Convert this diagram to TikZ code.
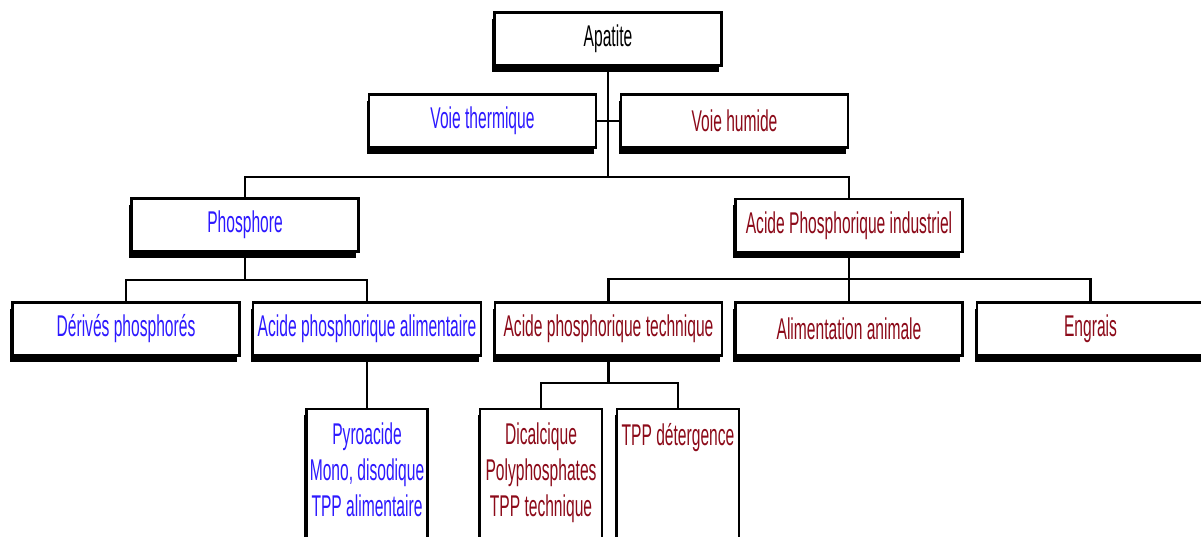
\documentclass[tikz,border=0pt]{standalone}
\usepackage{fontspec}
\newfontfamily\cond[FakeStretch=0.52]{Liberation Sans}
\usetikzlibrary{shadows}
\definecolor{tblue}{RGB}{45,25,255}
\definecolor{tred}{RGB}{140,10,25}
\tikzset{
  box/.style={draw, line width=2.3pt, fill=white, inner sep=0pt,
    drop shadow={shadow xshift=-2.5pt, shadow yshift=-6pt, fill=black, opacity=1}},
  wbox/.style={box, minimum width=227pt, minimum height=53pt,
    font=\cond\fontsize{30}{36}\selectfont},
  tallbox/.style={box, minimum width=122pt, minimum height=170pt, anchor=north},
  lbl/.style={font=\cond\fontsize{30}{36}\selectfont, align=center, inner sep=0pt},
  tb/.style={text=tblue},
  tr/.style={text=tred},
  thinlink/.style={line width=1.2pt},
  midlink/.style={line width=2.2pt},
  link/.style={line width=2.6pt},
}
\begin{document}
\begin{tikzpicture}[x=1pt,y=-1pt]
\useasboundingbox (0,0) rectangle (1201,536);
\clip (0,0) rectangle (1201,536);

% bus levels
\coordinate (topbar) at (0,177);
\coordinate (lbar) at (0,280);
\coordinate (rbar) at (0,279);
\coordinate (tbar) at (0,383);

% connectors (drawn under the boxes)
\coordinate (apc) at (608,39);
\coordinate (phc) at (245,225);
\coordinate (aic) at (849,225.5);
\draw[thinlink] (apc) -- (apc |- topbar);
\draw[midlink] (phc) -- (phc |- topbar) -- (aic |- topbar) -- (aic);
\coordinate (thc) at (482.5,121);
\coordinate (huc) at (734.5,121);
\draw[thinlink] (thc) -- (huc);
\coordinate (dec) at (126,329);
\coordinate (alc) at (367,329);
\draw[link] (phc) -- (phc |- lbar);
\draw[link] (dec) -- (dec |- lbar) -- (alc |- lbar) -- (alc);
\coordinate (tec) at (608.5,329);
\coordinate (anc) at (849,329);
\coordinate (enc) at (1090.5,329);
\draw[link] (aic) -- (aic |- rbar);
\draw[link] (tec) -- (tec |- rbar) -- (enc |- rbar) -- (enc);
\draw[link] (anc) -- (anc |- rbar);
\coordinate (pyc) at (367,470);
\coordinate (dic) at (541,470);
\coordinate (tpc) at (678,470);
\draw[link] (alc) -- (pyc);
\draw[link] (tec) -- (tec |- tbar);
\draw[link] (dic) -- (dic |- tbar) -- (tpc |- tbar) -- (tpc);

% boxes
\node[wbox] (apatite) at (apc) {Apatite};
\node[wbox, tb] (thermique) at (thc) {Voie thermique};
\node[wbox, tr] (humide) at (huc) {Voie humide};
\node[wbox, tb] (phosphore) at (phc) {Phosphore};
\node[wbox, tr] (api) at (aic) {Acide Phosphorique industriel};
\node[wbox, tb] (derives) at (dec) {Dérivés phosphorés};
\node[wbox, tb, minimum width=228pt] (alim) at (alc) {Acide phosphorique alimentaire};
\node[wbox, tr] (tech) at (tec) {Acide phosphorique technique};
\node[wbox, tr] (animale) at (anc) {Alimentation animale};
\node[wbox, tr] (engrais) at (enc) {Engrais};

\node[tallbox, minimum width=121pt] (pyro) at (367,408) {};
\node[tallbox] (dical) at (541,408) {};
\node[tallbox] (tpp) at (678,408) {};

\node[lbl, tb, anchor=north] (pyrotxt) at ([yshift=-15pt]pyro.north)
  {Pyroacide\\Mono, disodique\\TPP alimentaire};
\node[lbl, tr, anchor=north] (dicaltxt) at ([yshift=-15pt]dical.north)
  {Dicalcique\\Polyphosphates\\TPP technique};
\node[lbl, tr, anchor=north] (tpptxt) at ([yshift=-15pt]tpp.north)
  {TPP détergence};
\end{tikzpicture}
\end{document}
